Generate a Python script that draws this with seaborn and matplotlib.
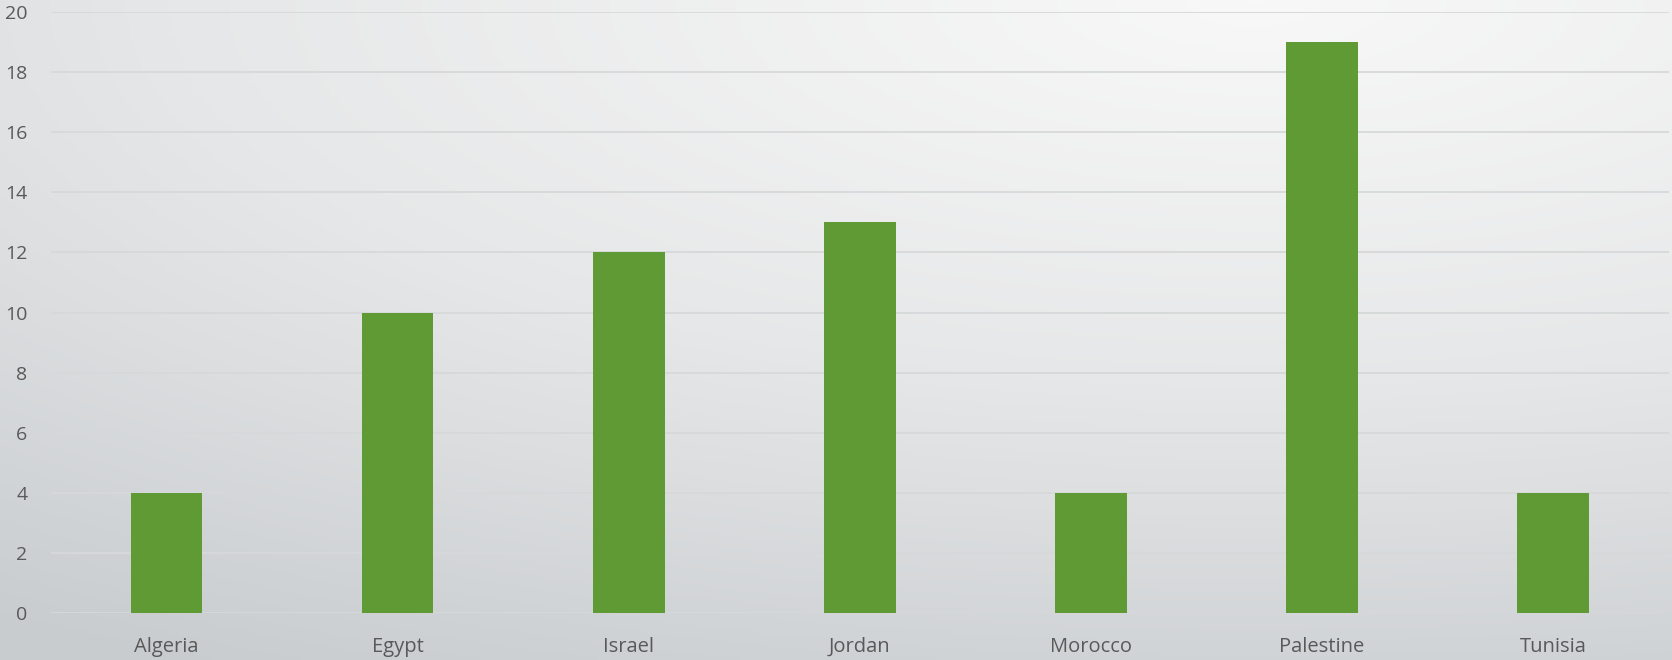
import numpy as np
import pandas as pd
import matplotlib
matplotlib.use("Agg")
import matplotlib.pyplot as plt
from matplotlib.colors import LinearSegmentedColormap
import seaborn as sns

countries = ["Algeria", "Egypt", "Israel", "Jordan", "Morocco", "Palestine", "Tunisia"]
counts = [4, 10, 12, 13, 4, 19, 4]
yticks = [0, 2, 4, 6, 8, 10, 12, 14, 16, 18, 20]

df = pd.DataFrame({"country": countries, "count": counts})

sns.set_theme(style="white")
plt.rcParams["font.family"] = ["Open Sans", "DejaVu Sans"]

fig = plt.figure(figsize=(16.72, 6.6), dpi=100)

# background gradient (light top right, darker towards bottom)
bg = fig.add_axes([0, 0, 1, 1], zorder=0)
xx, yy = np.meshgrid(np.linspace(0, 1, 400), np.linspace(0, 1, 200))
r = np.sqrt(((xx - 0.75) / 1.0) ** 2 + ((yy - 1.0) / 0.9) ** 2)
cmap = LinearSegmentedColormap.from_list("bg", ["#f8f8f8", "#e6e7e8", "#c8cccf"])
bg.imshow(r, cmap=cmap, vmin=0, vmax=1.3, origin="lower", extent=[0, 1, 0, 1], aspect="auto")
bg.set_axis_off()

ax = fig.add_axes([0.0305, 0.0712, 0.9675, 0.9106], zorder=1)
ax.patch.set_alpha(0)
sns.barplot(data=df, x="country", y="count", color="#5f9a35", width=0.31,
            saturation=1, linewidth=0, ax=ax, zorder=3)

ax.set_ylim(0, 20)
ax.set_xlim(-0.5, 6.5)
ax.set_yticks(yticks)
ax.yaxis.grid(True, color="#d6d8d9", linewidth=1.3, zorder=0)
ax.set_axisbelow(True)
for s in ax.spines.values():
    s.set_visible(False)
ax.set_xlabel("")
ax.set_ylabel("")
ax.tick_params(axis="both", length=0, colors="#595959", labelsize=14.5)
ax.tick_params(axis="x", pad=17)
ax.tick_params(axis="y", labelsize=14, pad=17)

fig.savefig("out.png", dpi=100)
